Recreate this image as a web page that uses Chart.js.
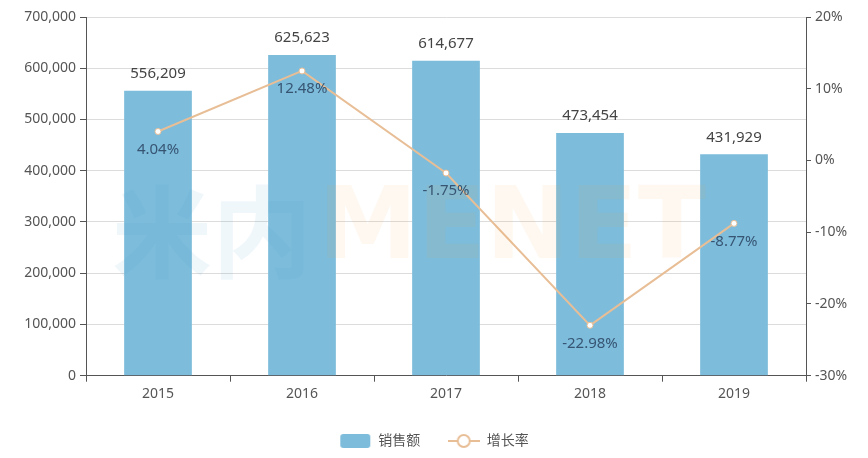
<!DOCTYPE html>
<html>
<head>
    <title>销售额与增长率</title>
    <script src="https://cdn.jsdelivr.net/npm/chart.js"></script>
    <style>
        html, body { margin: 0; padding: 0; background: #fff; }
        #wrap { width: 868px; height: 458px; }
    </style>
</head>
<body>
    <div id="wrap"><canvas id="comboChart" width="868" height="458"></canvas></div>

    <script>
        const years = ['2015', '2016', '2017', '2018', '2019'];
        const salesValues = [556209, 625623, 614677, 473454, 431929];
        const growthRates = [4.04, 12.48, -1.75, -22.98, -8.77];

        const barColor = 'rgb(125, 188, 219)';
        const lineColor = 'rgb(232, 190, 150)';
        const fontFamily = '"Noto Sans", "Noto Sans CJK SC", sans-serif';

        // legend icons
        function makeIcon(kind) {
            const c = document.createElement('canvas');
            c.width = 32; c.height = 16;
            const g = c.getContext('2d');
            if (kind === 'bar') {
                g.fillStyle = barColor;
                g.beginPath();
                g.roundRect(1, 1, 30, 14, 3);
                g.fill();
            } else {
                g.strokeStyle = lineColor;
                g.lineWidth = 2;
                g.beginPath(); g.moveTo(0, 8); g.lineTo(32, 8); g.stroke();
                g.fillStyle = '#fff';
                g.beginPath(); g.arc(16, 8, 6, 0, Math.PI * 2); g.fill(); g.stroke();
            }
            return c;
        }
        const barIcon = makeIcon('bar');
        const lineIcon = makeIcon('line');

        // value labels + watermark
        const labelPlugin = {
            id: 'valueLabels',
            afterDatasetsDraw(chart) {
                const ctx = chart.ctx;
                ctx.save();
                ctx.globalAlpha = 0.08;
                ctx.font = 'bold 100px "Noto Sans CJK SC", "DejaVu Sans", sans-serif';
                ctx.textBaseline = 'middle';
                ctx.textAlign = 'left';
                ctx.fillStyle = 'rgb(70, 150, 200)';
                ctx.fillText('米内', 112, 232);
                ctx.font = 'bold 100px "DejaVu Sans", sans-serif';
                ctx.fillStyle = 'rgb(240, 160, 80)';
                ctx.fillText('MENET', 318, 232);
                ctx.restore();

                ctx.save();
                ctx.font = '15px ' + fontFamily;
                ctx.textAlign = 'center';
                ctx.textBaseline = 'middle';
                const barMeta = chart.getDatasetMeta(0);
                ctx.fillStyle = '#444';
                barMeta.data.forEach((bar, i) => {
                    ctx.fillText(salesValues[i].toLocaleString('en-US'), bar.x, bar.y - 17);
                });
                const lineMeta = chart.getDatasetMeta(1);
                ctx.fillStyle = 'rgb(55, 85, 115)';
                lineMeta.data.forEach((pt, i) => {
                    ctx.fillText(growthRates[i].toFixed(2) + '%', pt.x, pt.y + 18);
                });
                ctx.restore();
            }
        };

        const ctx = document.getElementById('comboChart');
        new Chart(ctx, {
            type: 'bar',
            data: {
                labels: years,
                datasets: [
                    {
                        type: 'bar',
                        label: '销售额',
                        data: salesValues,
                        backgroundColor: barColor,
                        barPercentage: 0.47,
                        categoryPercentage: 1,
                        yAxisID: 'y',
                        order: 2
                    },
                    {
                        type: 'line',
                        label: '增长率',
                        data: growthRates,
                        borderColor: lineColor,
                        borderWidth: 2,
                        pointRadius: 3,
                        pointBackgroundColor: '#fff',
                        pointBorderColor: lineColor,
                        pointBorderWidth: 1,
                        tension: 0,
                        yAxisID: 'y1',
                        order: 1
                    }
                ]
            },
            options: {
                responsive: false,
                animation: false,
                layout: { padding: { top: 17, bottom: 0 } },
                plugins: {
                    tooltip: { enabled: false },
                    legend: {
                        position: 'bottom',
                        labels: {
                            usePointStyle: true,
                            pointStyleWidth: 32,
                            padding: 27.5,
                            color: '#555',
                            font: { size: 14, family: fontFamily },
                            generateLabels: function(chart) {
                                return chart.data.datasets.map((ds, i) => ({
                                    text: ds.label,
                                    datasetIndex: i,
                                    pointStyle: i === 0 ? barIcon : lineIcon,
                                    fillStyle: 'transparent',
                                    strokeStyle: 'transparent',
                                    lineWidth: 0,
                                    fontColor: '#555'
                                }));
                            }
                        }
                    }
                },
                scales: {
                    x: {
                        grid: {
                            offset: true,
                            drawOnChartArea: false,
                            tickLength: 6,
                            tickColor: '#555'
                        },
                        border: { color: '#555' },
                        ticks: {
                            color: '#555',
                            font: { size: 14, family: fontFamily },
                            padding: 4
                        }
                    },
                    y: {
                        position: 'left',
                        min: 0,
                        max: 700000,
                        ticks: {
                            stepSize: 100000,
                            color: '#555',
                            font: { size: 14, family: fontFamily },
                            padding: 4,
                            callback: function(value) {
                                return value.toLocaleString('en-US');
                            }
                        },
                        grid: { color: '#dcdcdc', tickLength: 6, tickColor: '#555' },
                        border: { color: '#555' },
                        afterFit: function(scale) { scale.width = 86; }
                    },
                    y1: {
                        position: 'right',
                        min: -30,
                        max: 20,
                        ticks: {
                            stepSize: 10,
                            color: '#555',
                            font: { size: 14, family: fontFamily },
                            padding: 4,
                            callback: function(value) {
                                return value + '%';
                            }
                        },
                        grid: { drawOnChartArea: false, tickLength: 5, tickColor: '#555' },
                        border: { color: '#555' },
                        afterFit: function(scale) { scale.width = 62; }
                    }
                }
            },
            plugins: [labelPlugin]
        });
    </script>
</body>
</html>
